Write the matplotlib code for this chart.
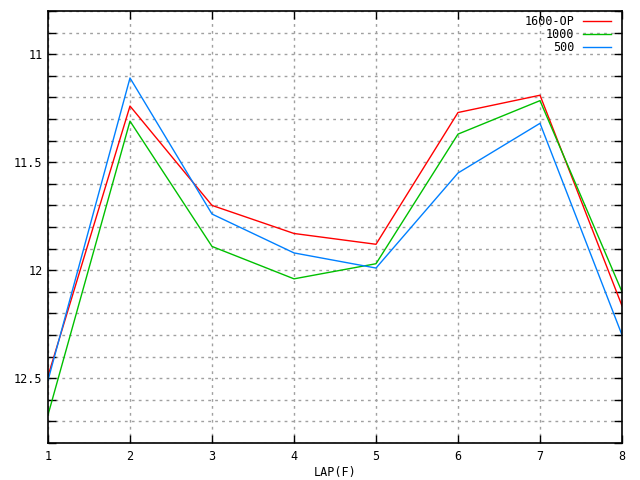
import numpy as np
import matplotlib
matplotlib.use("Agg")
import matplotlib.pyplot as plt
from matplotlib.ticker import MultipleLocator

laps = [1, 2, 3, 4, 5, 6, 7, 8]
op1600 = [12.49, 11.24, 11.70, 11.83, 11.88, 11.27, 11.19, 12.165]
v1000 = [12.67, 11.31, 11.89, 12.04, 11.97, 11.37, 11.215, 12.10]
v500 = [12.51, 11.11, 11.74, 11.92, 11.99, 11.55, 11.32, 12.30]

plt.rcParams['font.family'] = ['DejaVu Sans Mono']

fig = plt.figure(figsize=(6.4, 4.8), dpi=100)
ax = fig.add_axes([48 / 640, 37 / 480, 574 / 640, 432 / 480])

ax.plot(laps, op1600, color="#ff0000", lw=1, label="1600-OP")
ax.plot(laps, v1000, color="#00c000", lw=1, label="1000")
ax.plot(laps, v500, color="#0080ff", lw=1, label="500")

ax.set_xlim(1, 8)
ax.set_ylim(12.8, 10.8)
ax.set_xticks(laps)
ax.yaxis.set_major_locator(MultipleLocator(0.5))
ax.yaxis.set_minor_locator(MultipleLocator(0.1))
ax.yaxis.set_major_formatter(matplotlib.ticker.FuncFormatter(lambda v, p: "%g" % v))

ax.grid(True, which="both", color="#a0a0a0", linestyle=(0, (2, 3)), lw=1)
ax.tick_params(which="both", direction="in", top=True, right=True, length=6,
               width=1, labelsize=8.5)
ax.tick_params(axis="x", pad=5)
ax.tick_params(axis="y", pad=4)
for s in ax.spines.values():
    s.set_linewidth(1.2)

ax.set_xlabel("LAP(F)", fontsize=8.5, labelpad=2)

leg = ax.legend(loc="upper right", bbox_to_anchor=(0.981, 0.99), frameon=False,
                markerfirst=False, fontsize=8.5, handlelength=2.4, borderpad=0,
                borderaxespad=0, labelspacing=0.0, handletextpad=0.7)
for t in leg.get_texts():
    t.set_ha("right")

fig.savefig("out.png", dpi=100)
